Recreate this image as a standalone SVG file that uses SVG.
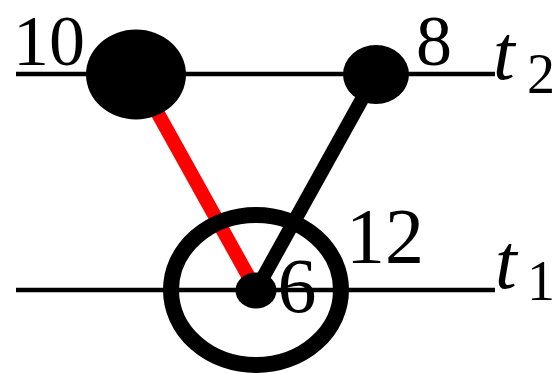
<svg xmlns="http://www.w3.org/2000/svg" width="555" height="374" viewBox="0 0 555 374">
<style>
.lbl{font-family:"Liberation Serif","Times New Roman",serif;font-size:78px;fill:#000;text-anchor:middle}
.top{font-size:72px}
.it{font-family:"Liberation Serif","Times New Roman",serif;font-style:italic;font-size:78px;fill:#000}
.sub{font-family:"Liberation Serif","Times New Roman",serif;font-size:56px;fill:#000}
.axis{stroke:#000;stroke-width:4.5;fill:none}
.edge{stroke-width:14;fill:none}
</style>
<rect width="555" height="374" fill="#fff"/>
<g id="axes">
<line class="axis" x1="16" y1="74" x2="495" y2="74"/>
<line class="axis" x1="16" y1="290" x2="495" y2="290"/>
<text class="it" x="493" y="79">t</text><text class="sub" x="527" y="93">2</text>
<text class="it" x="495" y="288">t</text><text class="sub" x="527" y="300">1</text>
</g>
<g id="connectors">
<line class="edge" x1="136" y1="74" x2="256" y2="290" stroke="#ff0000"/>
<line class="edge" x1="376" y1="74" x2="256" y2="290" stroke="#000"/>
</g>
<g id="node12">
<ellipse cx="256" cy="290" rx="85" ry="75" fill="none" stroke="#000" stroke-width="16"/>
<text class="lbl" x="385" y="262">12</text>
</g>
<g id="node10">
<ellipse cx="136" cy="74.5" rx="50" ry="45" fill="#000"/>
<text class="lbl top" x="49" y="65">10</text>
</g>
<g id="node8">
<ellipse cx="376" cy="74.5" rx="33" ry="29.5" fill="#000"/>
<text class="lbl top" x="434" y="65">8</text>
</g>
<g id="node6">
<ellipse cx="256" cy="290.5" rx="20.5" ry="18" fill="#000"/>
<text class="lbl" x="297" y="312">6</text>
</g>
</svg>
